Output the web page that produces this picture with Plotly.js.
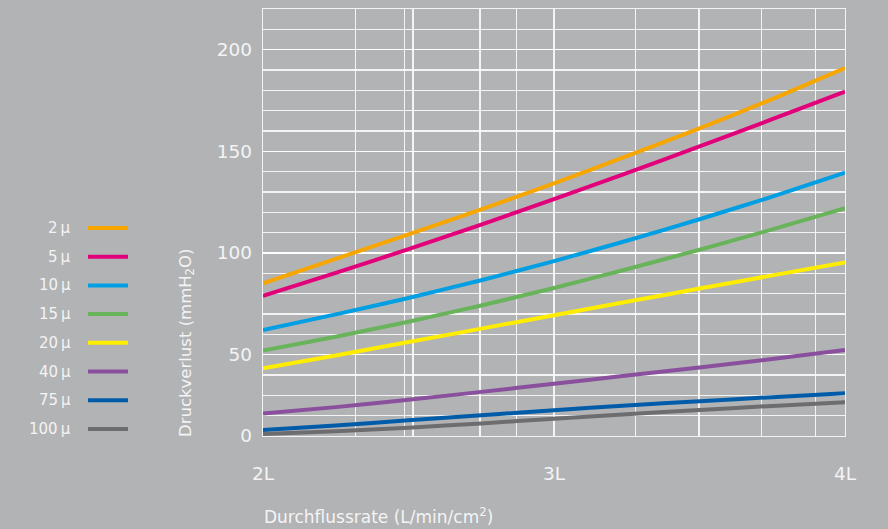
<!DOCTYPE html>
<html>
<head>
<meta charset="utf-8">
<script src="https://cdn.plot.ly/plotly-3.0.1.min.js"></script>
<style>
  html, body { margin: 0; padding: 0; background: #b2b3b5; }
  #chart { width: 888px; height: 529px; }
</style>
</head>
<body>
<div id="chart"></div>
<script>
// ---- data ----
const flowRates = [2.0, 2.25, 2.5, 2.75, 3.0, 3.25, 3.5, 3.75, 4.0];
const seriesNames = ["2\u2009\u00b5", "5\u2009\u00b5", "10\u2009\u00b5", "15\u2009\u00b5", "20\u2009\u00b5", "40\u2009\u00b5", "75\u2009\u00b5", "100\u2009\u00b5"];
const p2   = [85.1, 97.1, 109.2, 121.5, 134.3, 147.6, 161.3, 175.7, 191.0];
const p5   = [78.9, 90.2, 101.9, 114.0, 126.5, 139.3, 152.4, 165.8, 179.4];
const p10  = [62.1, 69.8, 77.9, 86.6, 96.0, 106.0, 116.6, 127.7, 139.5];
const p15  = [52.0, 58.8, 66.2, 74.2, 82.8, 92.0, 101.6, 111.6, 122.0];
const p20  = [43.3, 49.6, 56.2, 62.8, 69.4, 76.0, 82.5, 89.0, 95.4];
const p40  = [21.1, 24.2, 27.8, 31.7, 35.7, 39.7, 43.7, 47.9, 52.3];
const p75  = [13.0, 15.2, 17.7, 20.2, 22.7, 25.0, 27.1, 29.1, 31.0];
const p100 = [11.0, 12.3, 14.1, 16.2, 18.5, 20.7, 22.8, 24.8, 26.6];
const seriesValues = [p2, p5, p10, p15, p20, p40, p75, p100];
const seriesColors = ["#f7a600", "#e2007a", "#009fe3", "#69b35b", "#ffed00", "#8a4f9d", "#005ca9", "#6d6d6f"];

const xTickVals = [2, 3, 4];
const xTickText = ["2L", "3L", "4L"];
const xGridVals = [2.319, 2.486, 2.515, 2.746, 2.870, 3.280, 3.498, 3.713, 3.898];
const yTickVals = [10, 50, 100, 150, 200];
const yTickText = ["0", "50", "100", "150", "200"];

// ---- layout helpers ----
const W = 888, H = 529;
const M = { l: 263, r: 43, t: 9, b: 93 };
const PW = W - M.l - M.r, PH = H - M.t - M.b;
const px = x => (x - M.l) / PW;
const py = y => (H - M.b - y) / PH;

const txt = "#f4f4f4";
const font = "DejaVu Sans, sans-serif";

const traces = seriesValues.map((vals, i) => ({
  type: "scatter",
  mode: "lines",
  x: flowRates,
  y: vals,
  name: seriesNames[i],
  line: { color: seriesColors[i], width: 4, shape: "spline", smoothing: 0.5 },
  hoverinfo: "x+y+name"
}));

const annotations = [];
const shapes = [];
seriesNames.forEach((n, i) => {
  const rowY = 228 + i * 28.7;
  annotations.push({
    xref: "paper", yref: "paper", x: px(73), y: py(rowY),
    xanchor: "right", yanchor: "middle", showarrow: false,
    text: n, font: { family: font, size: 15, color: txt }
  });
  shapes.push({
    type: "line", xref: "paper", yref: "paper",
    x0: px(88), x1: px(128), y0: py(rowY), y1: py(rowY),
    line: { color: seriesColors[i], width: 4 }
  });
});
annotations.push({
  xref: "paper", yref: "paper", x: px(186), y: py(343),
  xanchor: "center", yanchor: "middle", textangle: -90, showarrow: false,
  text: "Druckverlust (mmH<sub>2</sub>O)", font: { family: font, size: 16.5, color: txt }
});
annotations.push({
  xref: "paper", yref: "paper", x: px(262), y: py(516),
  xanchor: "left", yanchor: "middle", showarrow: false,
  text: "Durchflussrate (L/min/cm<sup>2</sup>)", font: { family: font, size: 17, color: txt }
});

const gridCol = "rgba(255,255,255,0.85)";
const layout = {
  width: W, height: H,
  margin: M,
  paper_bgcolor: "#b2b3b5",
  plot_bgcolor: "#b2b3b5",
  showlegend: false,
  xaxis: {
    range: [2, 4], type: "linear",
    tickmode: "array", tickvals: xTickVals, ticktext: xTickText,
    ticks: "", ticklabelstandoff: 20,
    tickfont: { family: font, size: 18.5, color: txt },
    showgrid: true, gridcolor: gridCol, gridwidth: 1.3,
    minor: { tickmode: "array", tickvals: xGridVals, showgrid: true, gridcolor: gridCol, gridwidth: 1.3, ticks: "" },
    showline: true, mirror: true, linecolor: gridCol, linewidth: 1.3,
    zeroline: false, fixedrange: true
  },
  yaxis: {
    range: [10, 220],
    tickmode: "array", tickvals: yTickVals, ticktext: yTickText,
    ticks: "", ticklabelstandoff: 6,
    tickfont: { family: font, size: 18.5, color: txt },
    showgrid: true, gridcolor: gridCol, gridwidth: 1.3,
    minor: { tick0: 0, dtick: 10, showgrid: true, gridcolor: gridCol, gridwidth: 1.3, ticks: "" },
    showline: true, mirror: true, linecolor: gridCol, linewidth: 1.3,
    zeroline: false, fixedrange: true
  },
  annotations: annotations,
  shapes: shapes
};

Plotly.newPlot("chart", traces, layout, { displayModeBar: false, staticPlot: true });
</script>
</body>
</html>
